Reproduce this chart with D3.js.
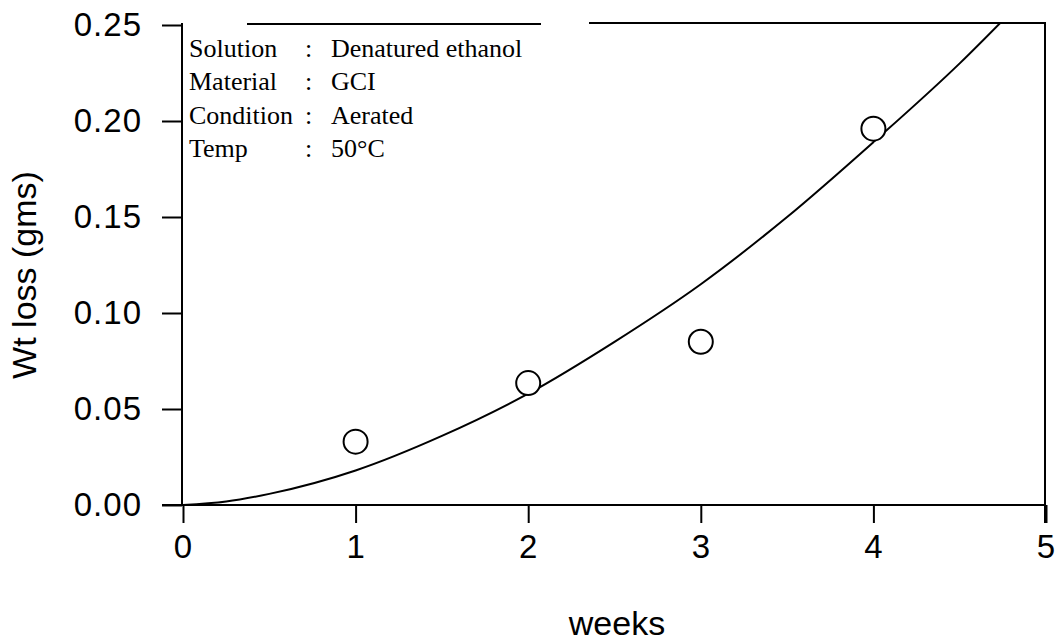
<!DOCTYPE html>
<html>
<head>
<meta charset="utf-8">
<script src="https://cdn.jsdelivr.net/npm/d3@7"></script>
<style>
  body { margin: 0; background: #fff; }
  svg { display: block; }
</style>
</head>
<body>
<div id="chart"></div>
<script>
var width = 1060,
    height = 642;

// measured points
var weeks = [1, 2, 3, 4];
var wtLoss = [0.033, 0.0635, 0.085, 0.196];

// fitted curve
var fitX = [0, 0.25, 0.5, 1, 1.5, 2, 2.5, 3, 3.5, 4, 4.5, 4.8];
var fitY = [0, 0.0018, 0.0058, 0.018, 0.036, 0.058, 0.085, 0.115, 0.150, 0.189, 0.230, 0.257];

var xTicks = [0, 1, 2, 3, 4, 5];
var yTicks = [0, 0.05, 0.10, 0.15, 0.20, 0.25];

var legendKeys = ["Solution", "Material", "Condition", "Temp"];
var legendVals = ["Denatured ethanol", "GCI", "Aerated", "50\u00B0C"];

// plot box (named so as not to clash with window.top)
var plotL = 182, plotR = 1045, plotT = 25, plotB = 505;

var x = d3.scaleLinear().domain([0, 5]).range([plotL + 1, plotR + 1]);
var y = d3.scaleLinear().domain([0, 0.25]).range([plotB, plotT]);

var svg = d3.select("#chart").append("svg")
  .attr("width", width)
  .attr("height", height);

svg.append("clipPath").attr("id", "plotclip")
  .append("rect")
  .attr("x", plotL).attr("y", plotT - 1)
  .attr("width", plotR - plotL).attr("height", plotB - plotT + 1);

// axes
var xAxis = d3.axisBottom(x).tickValues(xTicks).tickSize(18).tickPadding(12)
  .tickFormat(d3.format("d"));
var yAxis = d3.axisLeft(y).tickValues(yTicks).tickSize(20).tickPadding(20)
  .tickFormat(d3.format(".2f"));

var gx = svg.append("g").attr("transform", "translate(0," + plotB + ")").call(xAxis);
var gy = svg.append("g").attr("transform", "translate(" + plotL + ",0)").call(yAxis);

[gx, gy].forEach(function(g) {
  g.select(".domain").remove();
  g.selectAll(".tick line").attr("stroke", "#000").attr("stroke-width", 2);
  g.selectAll(".tick text")
    .attr("fill", "#000")
    .style("font-family", "'Liberation Sans', Arial, sans-serif")
    .style("font-size", "33px")
    .style("letter-spacing", "1px");
});

// frame
var frame = svg.append("g").attr("stroke", "#000").attr("stroke-width", 2).attr("fill", "none");
frame.append("line").attr("x1", plotL).attr("x2", plotL).attr("y1", plotT - 2).attr("y2", plotB + 1);
frame.append("line").attr("x1", plotL - 20).attr("x2", plotR).attr("y1", plotB).attr("y2", plotB);
frame.append("line").attr("x1", plotR).attr("x2", plotR).attr("y1", plotT - 3).attr("y2", plotB + 18);
frame.append("line").attr("x1", 247).attr("x2", 541).attr("y1", plotT - 1).attr("y2", plotT - 1);
frame.append("line").attr("x1", 589).attr("x2", plotR).attr("y1", plotT - 2).attr("y2", plotT - 2);

// fitted curve
var line = d3.line()
  .x(function(d) { return x(d[0]); })
  .y(function(d) { return y(d[1]); })
  .curve(d3.curveMonotoneX);

svg.append("path")
  .datum(d3.zip(fitX, fitY))
  .attr("clip-path", "url(#plotclip)")
  .attr("d", line)
  .attr("fill", "none")
  .attr("stroke", "#000")
  .attr("stroke-width", 2);

// data points
svg.selectAll("circle.pt")
  .data(d3.zip(weeks, wtLoss)).enter()
  .append("circle")
  .attr("class", "pt")
  .attr("cx", function(d) { return x(d[0]); })
  .attr("cy", function(d) { return y(d[1]); })
  .attr("r", 12)
  .attr("fill", "#fff")
  .attr("stroke", "#000")
  .attr("stroke-width", 2);

// legend text
var leg = svg.append("g")
  .style("font-family", "'Liberation Serif', 'Times New Roman', serif")
  .style("font-size", "26px")
  .attr("fill", "#000");

legendKeys.forEach(function(k, i) {
  var by = 57 + i * 33.3;
  leg.append("text").attr("x", 189).attr("y", by).text(k);
  leg.append("text").attr("x", 305).attr("y", by).text(":");
  leg.append("text").attr("x", 331).attr("y", by).text(legendVals[i]);
});

// axis titles
svg.append("text")
  .attr("x", 617).attr("y", 635)
  .attr("text-anchor", "middle")
  .style("font-family", "'Liberation Sans', Arial, sans-serif")
  .style("font-size", "34px")
  .text("weeks");

svg.append("text")
  .attr("transform", "translate(36,275) rotate(-90)")
  .attr("text-anchor", "middle")
  .style("font-family", "'Liberation Sans', Arial, sans-serif")
  .style("font-size", "34px")
  .text("Wt loss (gms)");
</script>
</body>
</html>
